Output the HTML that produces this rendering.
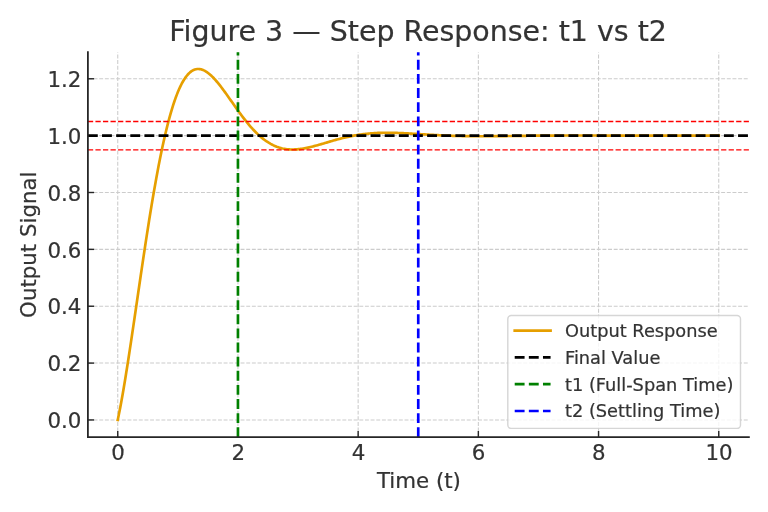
<!DOCTYPE html>
<html lang="en"><head><meta charset="utf-8"><title>Figure 3 — Step Response: t1 vs t2</title>
<style>
html,body{margin:0;padding:0;background:#fff;}
body{width:768px;height:512px;overflow:hidden;}
svg{display:block;}
text{font-family:"DejaVu Sans", "Liberation Sans", sans-serif;fill:#333333;stroke:#333333;stroke-width:0.22px;}
</style></head><body>
<svg width="768" height="512" viewBox="0 0 768 512">
<rect width="768" height="512" fill="#ffffff"/>

<g stroke="#cccccc" stroke-width="1.067" stroke-dasharray="3.947 1.707" fill="none">
<line x1="117.75" y1="437.2" x2="117.75" y2="52.2"/>
<line x1="237.95" y1="437.2" x2="237.95" y2="52.2"/>
<line x1="358.15" y1="437.2" x2="358.15" y2="52.2"/>
<line x1="478.35" y1="437.2" x2="478.35" y2="52.2"/>
<line x1="598.55" y1="437.2" x2="598.55" y2="52.2"/>
<line x1="718.75" y1="437.2" x2="718.75" y2="52.2"/>
<line x1="87.9" y1="419.95" x2="748.9" y2="419.95"/>
<line x1="87.9" y1="363.09" x2="748.9" y2="363.09"/>
<line x1="87.9" y1="306.23" x2="748.9" y2="306.23"/>
<line x1="87.9" y1="249.37" x2="748.9" y2="249.37"/>
<line x1="87.9" y1="192.50" x2="748.9" y2="192.50"/>
<line x1="87.9" y1="135.64" x2="748.9" y2="135.64"/>
<line x1="87.9" y1="78.78" x2="748.9" y2="78.78"/>
</g>
<g stroke="#262626" stroke-width="1.422">
<line x1="117.75" y1="437.2" x2="117.75" y2="431.0"/>
<line x1="237.95" y1="437.2" x2="237.95" y2="431.0"/>
<line x1="358.15" y1="437.2" x2="358.15" y2="431.0"/>
<line x1="478.35" y1="437.2" x2="478.35" y2="431.0"/>
<line x1="598.55" y1="437.2" x2="598.55" y2="431.0"/>
<line x1="718.75" y1="437.2" x2="718.75" y2="431.0"/>
<line x1="87.9" y1="419.95" x2="94.10000000000001" y2="419.95"/>
<line x1="87.9" y1="363.09" x2="94.10000000000001" y2="363.09"/>
<line x1="87.9" y1="306.23" x2="94.10000000000001" y2="306.23"/>
<line x1="87.9" y1="249.37" x2="94.10000000000001" y2="249.37"/>
<line x1="87.9" y1="192.50" x2="94.10000000000001" y2="192.50"/>
<line x1="87.9" y1="135.64" x2="94.10000000000001" y2="135.64"/>
<line x1="87.9" y1="78.78" x2="94.10000000000001" y2="78.78"/>
</g>
<polyline points="117.75,419.95 118.95,414.09 120.16,407.90 121.36,401.43 122.57,394.68 123.77,387.70 124.98,380.49 126.18,373.08 127.39,365.49 128.59,357.75 129.79,349.88 131.00,341.90 132.20,333.82 133.41,325.67 134.61,317.47 135.82,309.23 137.02,300.97 138.22,292.71 139.43,284.47 140.63,276.26 141.84,268.09 143.04,259.99 144.25,251.96 145.45,244.01 146.66,236.16 147.86,228.43 149.06,220.81 150.27,213.33 151.47,205.99 152.68,198.80 153.88,191.76 155.09,184.90 156.29,178.20 157.50,171.69 158.70,165.35 159.90,159.21 161.11,153.27 162.31,147.52 163.52,141.98 164.72,136.64 165.93,131.51 167.13,126.59 168.34,121.88 169.54,117.38 170.74,113.09 171.95,109.02 173.15,105.16 174.36,101.51 175.56,98.07 176.77,94.85 177.97,91.82 179.17,89.01 180.38,86.39 181.58,83.98 182.79,81.76 183.99,79.73 185.20,77.90 186.40,76.25 187.61,74.78 188.81,73.49 190.01,72.37 191.22,71.42 192.42,70.64 193.63,70.01 194.83,69.54 196.04,69.21 197.24,69.03 198.45,68.99 199.65,69.08 200.85,69.30 202.06,69.64 203.26,70.09 204.47,70.66 205.67,71.33 206.88,72.11 208.08,72.97 209.29,73.93 210.49,74.97 211.69,76.09 212.90,77.28 214.10,78.54 215.31,79.87 216.51,81.25 217.72,82.68 218.92,84.16 220.12,85.69 221.33,87.25 222.53,88.85 223.74,90.48 224.94,92.13 226.15,93.80 227.35,95.49 228.56,97.19 229.76,98.90 230.96,100.62 232.17,102.33 233.37,104.05 234.58,105.76 235.78,107.46 236.99,109.15 238.19,110.83 239.40,112.48 240.60,114.12 241.80,115.74 243.01,117.33 244.21,118.90 245.42,120.44 246.62,121.94 247.83,123.42 249.03,124.86 250.23,126.27 251.44,127.63 252.64,128.97 253.85,130.26 255.05,131.51 256.26,132.72 257.46,133.89 258.67,135.01 259.87,136.10 261.07,137.14 262.28,138.13 263.48,139.09 264.69,139.99 265.89,140.86 267.10,141.68 268.30,142.45 269.51,143.18 270.71,143.87 271.91,144.52 273.12,145.12 274.32,145.68 275.53,146.19 276.73,146.67 277.94,147.11 279.14,147.50 280.35,147.86 281.55,148.18 282.75,148.46 283.96,148.71 285.16,148.92 286.37,149.10 287.57,149.24 288.78,149.35 289.98,149.43 291.18,149.48 292.39,149.50 293.59,149.49 294.80,149.45 296.00,149.39 297.21,149.31 298.41,149.20 299.62,149.07 300.82,148.91 302.02,148.74 303.23,148.55 304.43,148.34 305.64,148.11 306.84,147.87 308.05,147.61 309.25,147.34 310.46,147.06 311.66,146.77 312.86,146.46 314.07,146.15 315.27,145.83 316.48,145.50 317.68,145.16 318.89,144.82 320.09,144.47 321.30,144.12 322.50,143.77 323.70,143.42 324.91,143.06 326.11,142.70 327.32,142.35 328.52,141.99 329.73,141.64 330.93,141.28 332.13,140.93 333.34,140.59 334.54,140.24 335.75,139.91 336.95,139.57 338.16,139.25 339.36,138.92 340.57,138.61 341.77,138.30 342.97,138.00 344.18,137.70 345.38,137.41 346.59,137.13 347.79,136.86 349.00,136.60 350.20,136.34 351.41,136.10 352.61,135.86 353.81,135.63 355.02,135.41 356.22,135.20 357.43,135.00 358.63,134.81 359.84,134.63 361.04,134.45 362.24,134.29 363.45,134.13 364.65,133.98 365.86,133.85 367.06,133.72 368.27,133.60 369.47,133.49 370.68,133.39 371.88,133.29 373.08,133.21 374.29,133.13 375.49,133.06 376.70,133.00 377.90,132.94 379.11,132.90 380.31,132.86 381.52,132.83 382.72,132.80 383.92,132.78 385.13,132.77 386.33,132.76 387.54,132.76 388.74,132.77 389.95,132.78 391.15,132.79 392.36,132.81 393.56,132.84 394.76,132.87 395.97,132.90 397.17,132.94 398.38,132.99 399.58,133.03 400.79,133.08 401.99,133.13 403.19,133.19 404.40,133.25 405.60,133.31 406.81,133.37 408.01,133.43 409.22,133.50 410.42,133.57 411.63,133.64 412.83,133.71 414.03,133.78 415.24,133.85 416.44,133.92 417.65,134.00 418.85,134.07 420.06,134.15 421.26,134.22 422.47,134.29 423.67,134.37 424.87,134.44 426.08,134.51 427.28,134.59 428.49,134.66 429.69,134.73 430.90,134.80 432.10,134.87 433.31,134.93 434.51,135.00 435.71,135.06 436.92,135.13 438.12,135.19 439.33,135.25 440.53,135.31 441.74,135.37 442.94,135.42 444.14,135.48 445.35,135.53 446.55,135.58 447.76,135.63 448.96,135.67 450.17,135.72 451.37,135.76 452.58,135.80 453.78,135.84 454.98,135.88 456.19,135.91 457.39,135.94 458.60,135.97 459.80,136.00 461.01,136.03 462.21,136.06 463.42,136.08 464.62,136.10 465.82,136.12 467.03,136.14 468.23,136.16 469.44,136.17 470.64,136.19 471.85,136.20 473.05,136.21 474.26,136.22 475.46,136.22 476.66,136.23 477.87,136.23 479.07,136.24 480.28,136.24 481.48,136.24 482.69,136.24 483.89,136.24 485.09,136.24 486.30,136.23 487.50,136.23 488.71,136.22 489.91,136.21 491.12,136.21 492.32,136.20 493.53,136.19 494.73,136.18 495.93,136.17 497.14,136.16 498.34,136.14 499.55,136.13 500.75,136.12 501.96,136.11 503.16,136.09 504.37,136.08 505.57,136.06 506.77,136.05 507.98,136.03 509.18,136.02 510.39,136.00 511.59,135.99 512.80,135.97 514.00,135.96 515.20,135.94 516.41,135.93 517.61,135.91 518.82,135.90 520.02,135.88 521.23,135.87 522.43,135.85 523.64,135.84 524.84,135.82 526.04,135.81 527.25,135.79 528.45,135.78 529.66,135.77 530.86,135.75 532.07,135.74 533.27,135.73 534.48,135.72 535.68,135.70 536.88,135.69 538.09,135.68 539.29,135.67 540.50,135.66 541.70,135.65 542.91,135.64 544.11,135.63 545.32,135.62 546.52,135.61 547.72,135.60 548.93,135.60 550.13,135.59 551.34,135.58 552.54,135.57 553.75,135.57 554.95,135.56 556.15,135.56 557.36,135.55 558.56,135.55 559.77,135.54 560.97,135.54 562.18,135.54 563.38,135.53 564.59,135.53 565.79,135.53 566.99,135.52 568.20,135.52 569.40,135.52 570.61,135.52 571.81,135.52 573.02,135.52 574.22,135.52 575.43,135.52 576.63,135.52 577.83,135.52 579.04,135.52 580.24,135.52 581.45,135.52 582.65,135.52 583.86,135.52 585.06,135.52 586.27,135.53 587.47,135.53 588.67,135.53 589.88,135.53 591.08,135.53 592.29,135.54 593.49,135.54 594.70,135.54 595.90,135.54 597.10,135.55 598.31,135.55 599.51,135.55 600.72,135.56 601.92,135.56 603.13,135.56 604.33,135.57 605.54,135.57 606.74,135.57 607.94,135.57 609.15,135.58 610.35,135.58 611.56,135.58 612.76,135.59 613.97,135.59 615.17,135.59 616.38,135.60 617.58,135.60 618.78,135.60 619.99,135.61 621.19,135.61 622.40,135.61 623.60,135.61 624.81,135.62 626.01,135.62 627.21,135.62 628.42,135.63 629.62,135.63 630.83,135.63 632.03,135.63 633.24,135.64 634.44,135.64 635.65,135.64 636.85,135.64 638.05,135.64 639.26,135.65 640.46,135.65 641.67,135.65 642.87,135.65 644.08,135.65 645.28,135.65 646.49,135.66 647.69,135.66 648.89,135.66 650.10,135.66 651.30,135.66 652.51,135.66 653.71,135.66 654.92,135.66 656.12,135.66 657.33,135.66 658.53,135.66 659.73,135.67 660.94,135.67 662.14,135.67 663.35,135.67 664.55,135.67 665.76,135.67 666.96,135.67 668.16,135.67 669.37,135.67 670.57,135.67 671.78,135.67 672.98,135.67 674.19,135.67 675.39,135.67 676.60,135.67 677.80,135.67 679.00,135.67 680.21,135.67 681.41,135.67 682.62,135.67 683.82,135.66 685.03,135.66 686.23,135.66 687.44,135.66 688.64,135.66 689.84,135.66 691.05,135.66 692.25,135.66 693.46,135.66 694.66,135.66 695.87,135.66 697.07,135.66 698.28,135.66 699.48,135.66 700.68,135.66 701.89,135.66 703.09,135.66 704.30,135.65 705.50,135.65 706.71,135.65 707.91,135.65 709.11,135.65 710.32,135.65 711.52,135.65 712.73,135.65 713.93,135.65 715.14,135.65 716.34,135.65 717.55,135.65 718.75,135.65" fill="none" stroke="#e69f00" stroke-width="2.667" stroke-linejoin="round" stroke-linecap="square"/>
<line x1="87.9" y1="135.64" x2="748.9" y2="135.64" stroke="#000000" stroke-width="2.667" stroke-dasharray="9.867 4.267"/>
<line x1="87.9" y1="121.43" x2="748.9" y2="121.43" stroke="#ff0000" stroke-width="1.422" stroke-dasharray="5.262 2.276"/>
<line x1="87.9" y1="149.86" x2="748.9" y2="149.86" stroke="#ff0000" stroke-width="1.422" stroke-dasharray="5.262 2.276"/>
<line x1="237.95" y1="437.2" x2="237.95" y2="52.2" stroke="#008000" stroke-width="2.667" stroke-dasharray="9.867 4.267"/>
<line x1="418.25" y1="437.2" x2="418.25" y2="52.2" stroke="#0000ff" stroke-width="2.667" stroke-dasharray="9.867 4.267"/>
<path d="M87.9 52.2 L87.9 437.2 L748.9 437.2" fill="none" stroke="#262626" stroke-width="1.778" stroke-linecap="square" stroke-linejoin="miter"/>
<g font-size="21.33px">
<text x="118.05" y="460.30" text-anchor="middle">0</text>
<text x="238.25" y="460.30" text-anchor="middle">2</text>
<text x="358.45" y="460.30" text-anchor="middle">4</text>
<text x="478.65" y="460.30" text-anchor="middle">6</text>
<text x="598.85" y="460.30" text-anchor="middle">8</text>
<text x="719.05" y="460.30" text-anchor="middle">10</text>
<text x="81.40" y="428.15" text-anchor="end">0.0</text>
<text x="81.40" y="371.29" text-anchor="end">0.2</text>
<text x="81.40" y="314.43" text-anchor="end">0.4</text>
<text x="81.40" y="257.56" text-anchor="end">0.6</text>
<text x="81.40" y="200.70" text-anchor="end">0.8</text>
<text x="81.40" y="143.84" text-anchor="end">1.0</text>
<text x="81.40" y="86.98" text-anchor="end">1.2</text>
</g>
<text x="418.90" y="487.9" font-size="21.33px" text-anchor="middle">Time (t)</text>
<text transform="translate(35.5,244.70) rotate(-90)" font-size="21.33px" text-anchor="middle">Output Signal</text>
<text x="418.10" y="40.5" font-size="28.44px" text-anchor="middle">Figure 3 — Step Response: t1 vs t2</text>
<rect x="507.8" y="315.5" width="232.7" height="112.89999999999998" rx="3.5" ry="3.5" fill="#ffffff" fill-opacity="0.8" stroke="#cccccc" stroke-opacity="0.8" stroke-width="1.422"/>
<line x1="514.71" y1="330.60" x2="550.57" y2="330.60" stroke="#e69f00" stroke-width="2.667" stroke-linecap="square"/>
<text x="564.99" y="336.90" font-size="17.78px">Output Response</text>
<line x1="514.71" y1="357.40" x2="550.57" y2="357.40" stroke="#000000" stroke-width="2.667" stroke-dasharray="9.867 4.267"/>
<text x="564.99" y="363.70" font-size="17.78px">Final Value</text>
<line x1="514.71" y1="384.20" x2="550.57" y2="384.20" stroke="#008000" stroke-width="2.667" stroke-dasharray="9.867 4.267"/>
<text x="564.99" y="390.50" font-size="17.78px">t1 (Full-Span Time)</text>
<line x1="514.71" y1="411.00" x2="550.57" y2="411.00" stroke="#0000ff" stroke-width="2.667" stroke-dasharray="9.867 4.267"/>
<text x="564.99" y="417.30" font-size="17.78px">t2 (Settling Time)</text>
</svg></body></html>
